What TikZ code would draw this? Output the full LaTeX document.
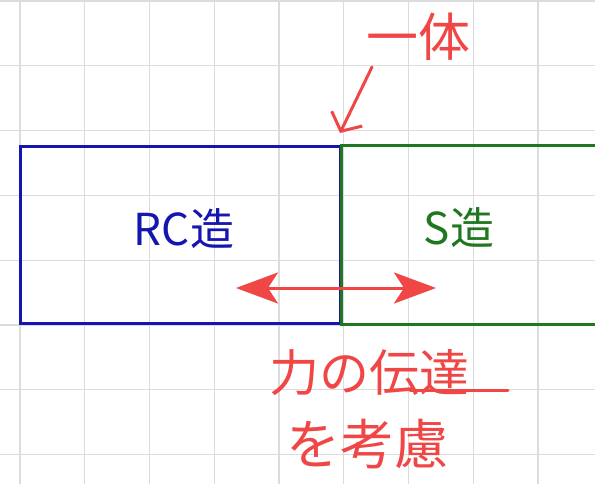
\documentclass[tikz,border=0pt]{standalone}
\usepackage{fontspec}
\newfontfamily\jp{Noto Sans CJK JP}
\usetikzlibrary{arrows.meta,calc}
\definecolor{gridc}{HTML}{DCDCDC}
\definecolor{rcblue}{HTML}{1515B0}
\definecolor{sgreen}{HTML}{1F781F}
\definecolor{penred}{HTML}{F04646}
\tikzset{
  gridline/.style={draw=gridc, line width=1.3pt},
  rcbox/.style={draw=rcblue, line width=3pt, inner sep=0pt, minimum width=320pt, minimum height=176pt},
  sline/.style={draw=sgreen, line width=3pt},
  penline/.style={draw=penred, line width=3pt, line cap=round, line join=round},
  lab/.style={inner sep=0pt, font=\jp\fontsize{#1}{#1}\selectfont},
  bighead/.tip={Stealth[length=42pt,width=31pt,inset=10pt]},
}
\begin{document}
\begin{tikzpicture}[x=1pt,y=-1pt]
\useasboundingbox (0,0) rectangle (595,484);
\fill[white] (0,0) rectangle (595,484);
\foreach \i in {0,...,8} \draw[gridline] ({20+64.75*\i},0) -- ({20+64.75*\i},484);
\foreach \j in {0,...,7} \draw[gridline] (0,{1+64.8*\j}) -- (595,{1+64.8*\j});
% RC box
\node[rcbox] (rc) at (180,235) {};
% S box (continues off the page)
\draw[sline] ($(rc.north east)+(270,0)$) -- (rc.north east) -- (rc.south east) -- ++(270,0);
% labels
\node[lab=44, text=rcblue] (rclab) at (184,229) {RC造};
\node[lab=44, text=sgreen] (slab) at (459,228) {S造};
% double arrow
\coordinate (fl) at (236,288);
\coordinate (fr) at (436,288);
\draw[penline, bighead-bighead] (fl) -- (fr);
% ittai
\node[lab=52, text=penred] (ittai) at (418,37) {一体};
\coordinate (ja) at (372,67);
\coordinate (jt) at (340,133);
\draw[penline, -{Straight Barb[length=14pt,width=34pt]}] (ja) -- (jt);
% bottom text
\node[lab=50, text=penred] (force) at (369,373) {力の伝達};
\coordinate (ul1) at (410,390);
\coordinate (ul2) at (508,390);
\draw[penline] (ul1) -- (ul2);
\node[lab=54, text=penred] (consider) at (367,444) {を考慮};
\end{tikzpicture}
\end{document}
